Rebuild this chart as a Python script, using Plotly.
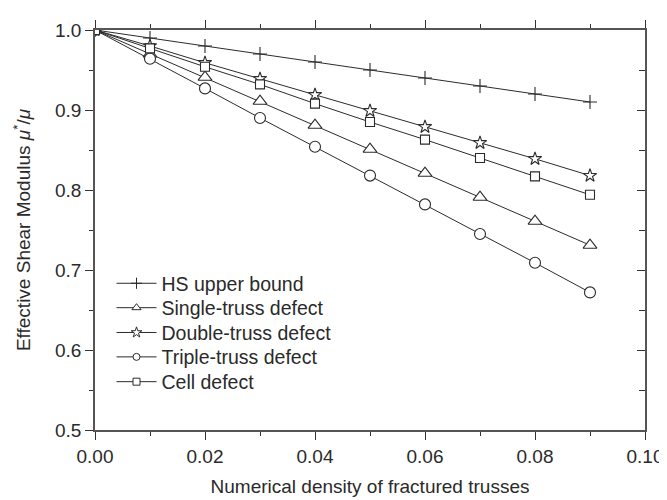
import plotly.graph_objects as go

density = [0.00, 0.01, 0.02, 0.03, 0.04, 0.05, 0.06, 0.07, 0.08, 0.09]
hs_upper = [1.000, 0.990, 0.980, 0.970, 0.960, 0.950, 0.940, 0.930, 0.920, 0.910]
single_truss = [1.000, 0.970, 0.941, 0.911, 0.881, 0.851, 0.821, 0.791, 0.761, 0.731]
double_truss = [1.000, 0.980, 0.959, 0.939, 0.919, 0.899, 0.879, 0.859, 0.839, 0.818]
triple_truss = [1.000, 0.964, 0.927, 0.890, 0.854, 0.818, 0.782, 0.745, 0.709, 0.672]
cell_defect = [1.000, 0.977, 0.954, 0.932, 0.908, 0.885, 0.863, 0.840, 0.817, 0.794]

# name, values, symbol, plot marker size, legend marker size
series = [
    ("HS upper bound", hs_upper, "cross-thin", 10, 8),
    ("Single-truss defect", single_truss, "triangle-up", 12, 8),
    ("Double-truss defect", double_truss, "star", 10, 8),
    ("Triple-truss defect", triple_truss, "circle", 11, 7),
    ("Cell defect", cell_defect, "square", 9, 7),
]
legend_ids = ["legend", "legend2", "legend3", "legend4", "legend5"]
legend_rows = [0.366, 0.305, 0.243, 0.182, 0.120]  # vertical anchors of legend rows (paper)

LC = "#2b2b2b"
TC = "#2a2a2a"
FONT = "Liberation Sans, Arial, sans-serif"

fig = go.Figure()
for name, vals, sym, sz, lsz in series:
    fig.add_trace(go.Scatter(
        x=density, y=vals, name=name, mode="lines+markers", showlegend=False,
        line=dict(color=LC, width=1),
        marker=dict(symbol=sym, size=sz, color="white", line=dict(color=LC, width=1.1)),
        cliponaxis=True,
    ))
for (name, vals, sym, sz, lsz), lid in zip(series, legend_ids):
    # legend entries (smaller symbols as in the reference)
    fig.add_trace(go.Scatter(
        x=[None], y=[None], name=name, mode="lines+markers", showlegend=True, legend=lid,
        line=dict(color=LC, width=1),
        marker=dict(symbol=sym, size=lsz, color="white", line=dict(color=LC, width=1)),
    ))

# helper trace for the right-hand axis (inside ticks)
fig.add_trace(go.Scatter(x=[density[0]], y=[hs_upper[0]], yaxis="y2", mode="markers",
                         marker=dict(opacity=0), showlegend=False, hoverinfo="skip"))

axis_common = dict(
    showgrid=False, zeroline=False, showline=True, linecolor="#555555", linewidth=1.5,
    tickcolor="#333333", tickwidth=1.2,
    tickfont=dict(family=FONT, size=19, color=TC),
)

legend_layout = {}
for lid, yc in zip(legend_ids, legend_rows):
    legend_layout[lid] = dict(
        x=0.030, y=yc, xanchor="left", yanchor="middle",
        bgcolor="rgba(0,0,0,0)", borderwidth=0,
        font=dict(family=FONT, size=19.5, color=TC),
        itemwidth=40,
    )

fig.update_layout(
    width=667, height=500,
    margin=dict(l=87, r=22, t=15, b=78),
    paper_bgcolor="white", plot_bgcolor="white",
    font=dict(family=FONT, size=19, color=TC),
    xaxis=dict(
        range=[0, 0.10], tick0=0, dtick=0.02, tickformat=".2f",
        ticks="outside", ticklen=8, mirror="ticks",
        minor=dict(dtick=0.01, ticks="outside", ticklen=4, tickcolor="#333333", tickwidth=1.2),
        title=dict(text="Numerical density of fractured trusses", standoff=14,
                   font=dict(family=FONT, size=19, color=TC)),
        **axis_common,
    ),
    yaxis=dict(
        range=[0.5, 1.0], tick0=0.5, dtick=0.1, tickformat=".1f",
        ticks="outside", ticklen=8, mirror=True,
        minor=dict(dtick=0.05, ticks="outside", ticklen=4, tickcolor="#333333", tickwidth=1.2),
        title=dict(text="Effective Shear Modulus <i>μ</i><sup>*</sup>/<i>μ</i>", standoff=19,
                   font=dict(family=FONT, size=19, color=TC)),
        **axis_common,
    ),
    yaxis2=dict(
        overlaying="y", side="right", range=[0.5, 1.0], tick0=0.5, dtick=0.1,
        showticklabels=False, ticks="inside", ticklen=8, showgrid=False, zeroline=False,
        showline=False, tickcolor="#333333", tickwidth=1.2,
        minor=dict(dtick=0.05, ticks="inside", ticklen=6, tickcolor="#333333", tickwidth=1.2),
    ),
    showlegend=True,
    **legend_layout,
)

fig.write_html("out.html")
